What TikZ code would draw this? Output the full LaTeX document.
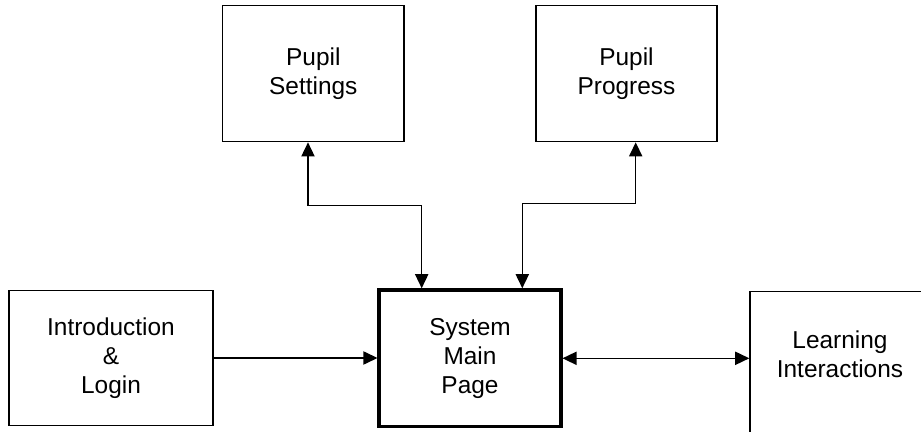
\documentclass[tikz,border=0pt]{standalone}
\usepackage{fontspec}
\setmainfont{Liberation Sans}
\usepackage{tikz}
\usetikzlibrary{calc,arrows.meta}

\begin{document}
\begin{tikzpicture}[x=0.02cm,y=-0.02cm,line width=0.75pt,>={Triangle[length=8pt,width=7.5pt]},
	every node/.style={align=center,font=\fontsize{13.9}{16.4}\selectfont},
	box/.style={draw,rectangle,inner sep=0pt},
	mainbox/.style={box,line width=1.9pt}]
	\useasboundingbox (0,0) rectangle (921,432);
	%top boxes placed by hand
	\node[box,minimum width=181.3*0.02cm,minimum height=136*0.02cm] (set) at (313.3,73.7){Pupil\\Settings};
	\node[box,minimum width=181*0.02cm,minimum height=136*0.02cm] (prog) at (626.5,73.7){Pupil\\Progress};
	%% bottom row
	\node[box,minimum width=203.7*0.02cm,minimum height=135*0.02cm] (intro) at (111,358){Introduction\\\&\\Login};
	\node[mainbox,minimum width=181.7*0.02cm,minimum height=136.7*0.02cm] (main) at (470,358.3){System\\Main\\Page};
	%% right box runs off the page, its text sits apart
	\node[box,anchor=north west,minimum width=200*0.02cm,minimum height=170*0.02cm] (learn) at (749.3,290.7){};
	\node (learntxt) at (840,354){Learning\\Interactions};
	%% connectors
	\draw[->] (intro.east) -- (intro.east -| main.west);
	\draw[<->] (main.east) -- (main.east -| learn.west);
	\draw[<->] ($(set.south)+(-5.3,0)$) -- ++(0,63.3) -| ($(main.north)+(-48.3,0)$);
	\draw[<->] ($(main.north)+(52.3,0)$) -- ++(0,-85) -| ($(prog.south)+(9.2,0)$);
\end{tikzpicture}
\end{document}
